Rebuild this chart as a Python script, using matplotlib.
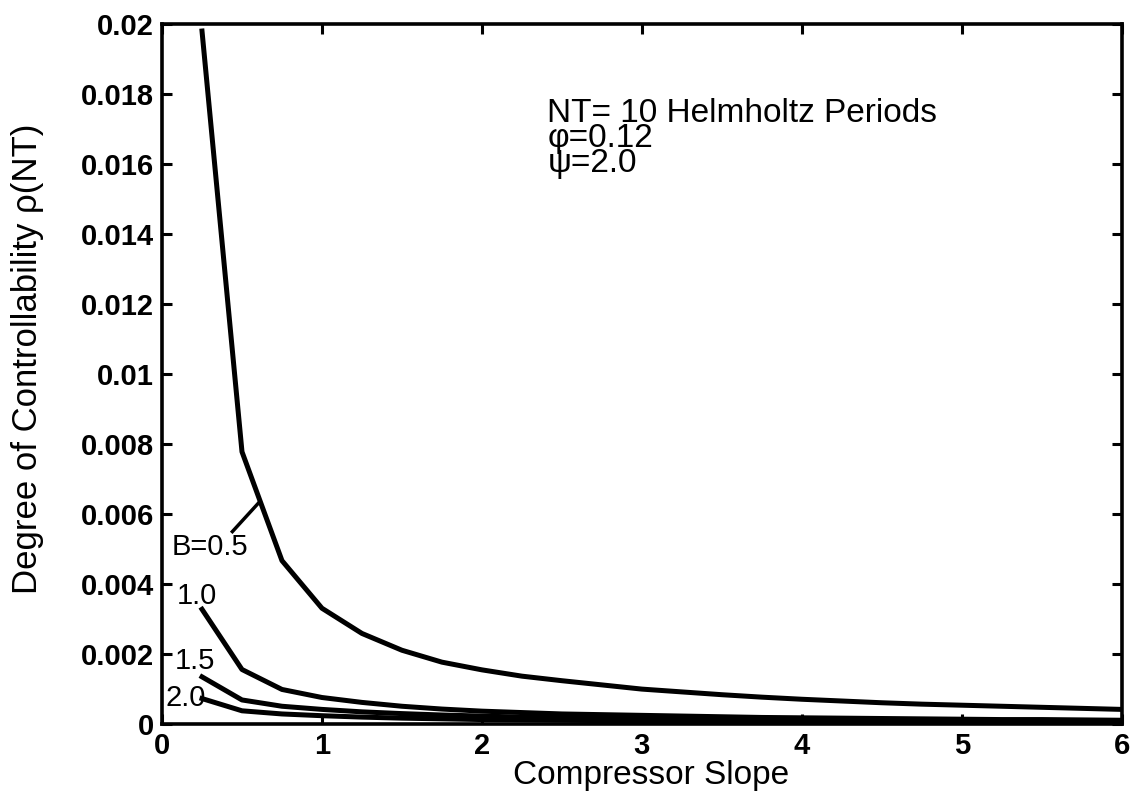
import matplotlib
matplotlib.use("Agg")
import matplotlib.pyplot as plt

# compressor slope samples
slope = [0.25, 0.5, 0.75, 1.0, 1.25, 1.5, 1.75, 2.0, 2.25, 2.5, 2.75, 3.0,
         3.25, 3.5, 3.75, 4.0, 4.25, 4.5, 4.75, 5.0, 5.25, 5.5, 5.75, 6.0]

# degree of controllability rho(NT) for each B
rho_b05 = [0.0198, 0.00778, 0.00467, 0.00331, 0.00259, 0.00211, 0.00177, 0.00155,
           0.00137, 0.00124, 0.00112, 0.00100, 0.00092, 0.00084, 0.00077, 0.00071,
           0.00066, 0.00061, 0.00057, 0.00054, 0.00051, 0.00048, 0.00045, 0.00042]
rho_b10 = [0.00328, 0.00156, 0.00099, 0.00076, 0.00062, 0.00051, 0.00043, 0.00037,
           0.00033, 0.00029, 0.00027, 0.00025, 0.00023, 0.00021, 0.00019, 0.00018,
           0.00017, 0.00016, 0.00015, 0.00014, 0.00013, 0.00013, 0.00012, 0.00011]
rho_b15 = [0.00135, 0.00069, 0.00051, 0.00042, 0.00035, 0.00030, 0.00026, 0.00023,
           0.00020, 0.00018, 0.00016, 0.00015, 0.00014, 0.00013, 0.00012, 0.00011,
           0.00010, 0.00010, 0.00009, 0.00009, 0.00008, 0.00008, 0.00007, 0.00007]
rho_b20 = [0.00073, 0.00038, 0.00029, 0.00024, 0.00020, 0.00017, 0.00015, 0.00013,
           0.00012, 0.00011, 0.00010, 0.00009, 0.00008, 0.00008, 0.00007, 0.00007,
           0.00006, 0.00006, 0.00005, 0.00005, 0.00005, 0.00004, 0.00004, 0.00004]

yticks = [0, 0.002, 0.004, 0.006, 0.008, 0.01, 0.012, 0.014, 0.016, 0.018, 0.02]
ytick_labels = ["0", "0.002", "0.004", "0.006", "0.008", "0.01", "0.012",
                "0.014", "0.016", "0.018", "0.02"]

plt.rcParams["font.family"] = ["Liberation Sans", "DejaVu Sans"]

fig = plt.figure(figsize=(11.33, 8.01), dpi=100)
ax = fig.add_axes([0.143, 0.096, 0.847, 0.874])

for rho in (rho_b05, rho_b10, rho_b15, rho_b20):
    ax.plot(slope, rho, color="black", linewidth=3.6, solid_joinstyle="round")

# curve labels
ax.text(0.06, 0.00506, "B=0.5", fontsize=21, va="center", ha="left")
ax.plot([0.44, 0.60], [0.0055, 0.0063], color="black", linewidth=2.5)
ax.text(0.09, 0.00366, "1.0", fontsize=21, va="center", ha="left")
ax.text(0.08, 0.00180, "1.5", fontsize=21, va="center", ha="left")
ax.text(0.02, 0.00074, "2.0", fontsize=21, va="center", ha="left")

# parameter annotation
ax.text(2.41, 0.01788, "NT= 10 Helmholtz Periods\nφ=0.12\nψ=2.0",
        fontsize=24, va="top", ha="left", linespacing=0.74)

ax.set_xlim(0, 6)
ax.set_ylim(0, 0.02)
ax.set_xticks(range(0, 7))
ax.set_yticks(yticks)
ax.set_yticklabels(ytick_labels)
ax.tick_params(direction="in", length=7, width=2.2, top=True, right=True,
               labelsize=21, pad=6)
for lab in ax.get_xticklabels() + ax.get_yticklabels():
    lab.set_fontweight("bold")
for side in ax.spines.values():
    side.set_linewidth(2.6)

ax.set_xlabel("Compressor Slope", fontsize=24)
ax.set_ylabel("Degree of Controllability ρ(NT)", fontsize=25)
ax.xaxis.set_label_coords(0.51, -0.073)
ax.xaxis.label.set_va("center")
ax.yaxis.set_label_coords(-0.1406, 0.522)
ax.yaxis.label.set_va("center")

fig.savefig("out.png", dpi=100)
